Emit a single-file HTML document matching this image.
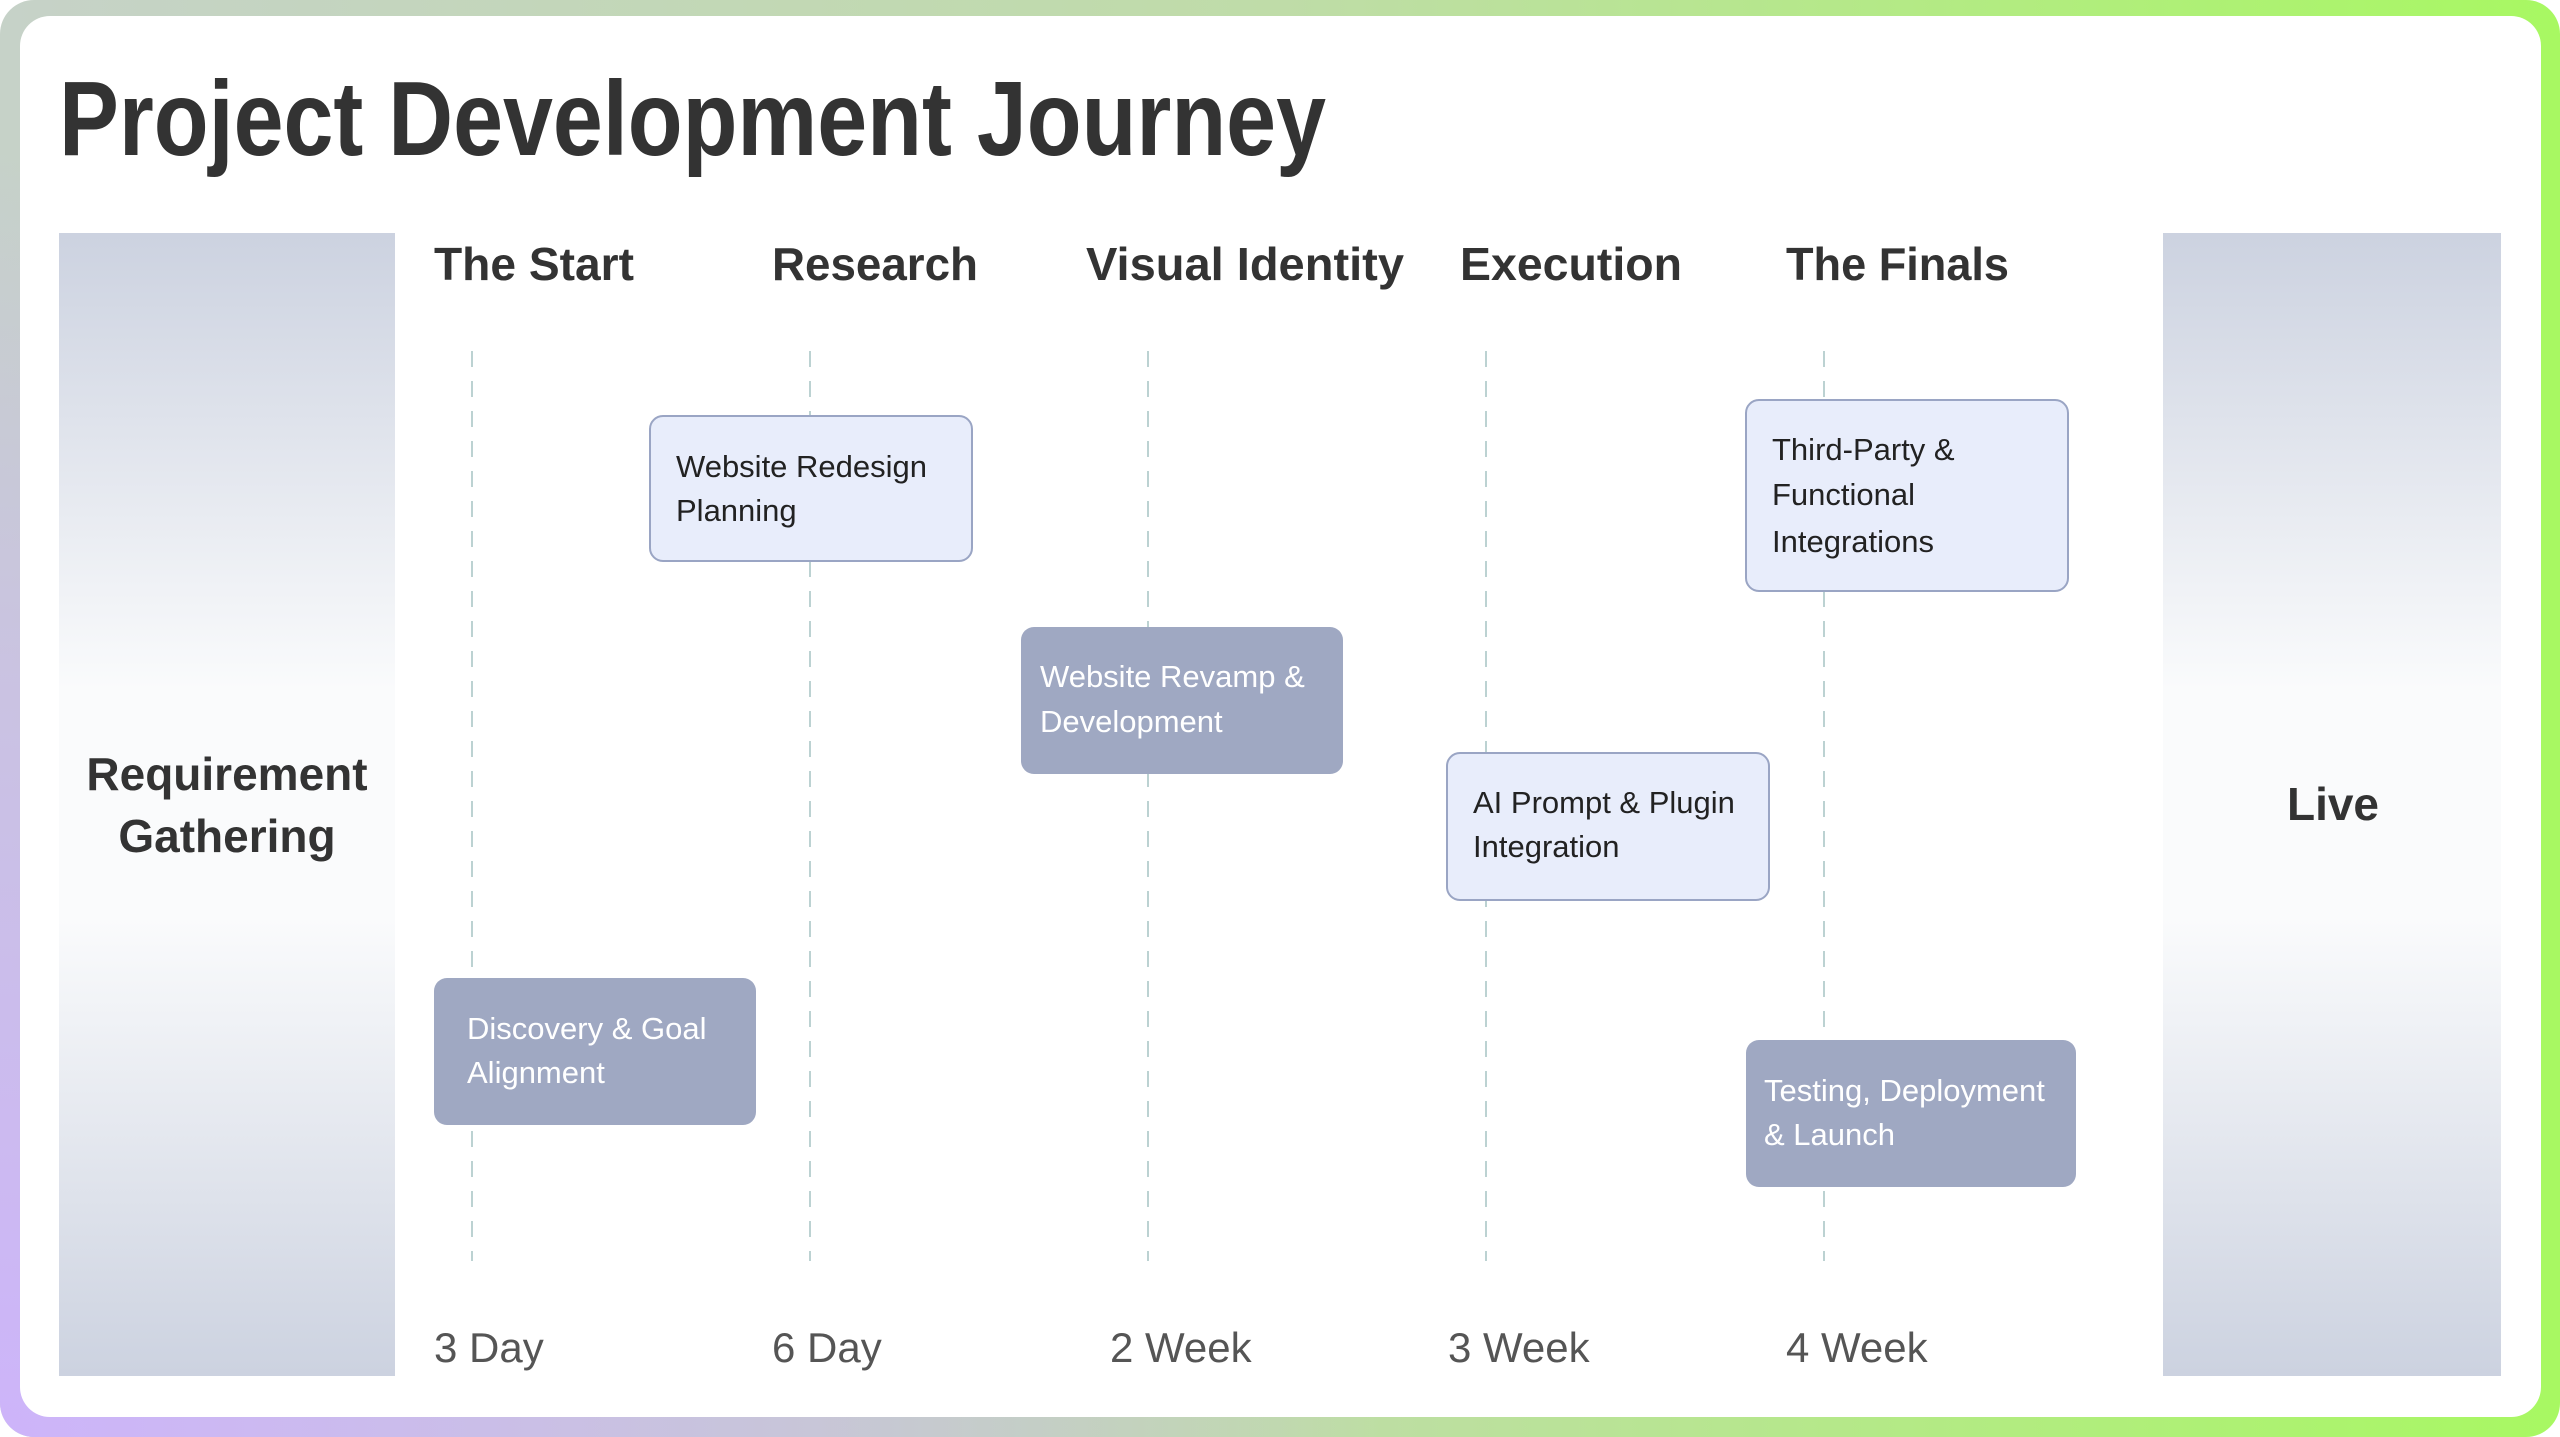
<!DOCTYPE html>
<html><head><meta charset="utf-8"><style>html,body{margin:0;padding:0;background:#fff}svg{display:block}</style></head>
<body>
<svg width="2560" height="1437" viewBox="0 0 2560 1437" xmlns="http://www.w3.org/2000/svg" font-family="'Liberation Sans', sans-serif">
<defs>
<linearGradient id="fr" x1="0" y1="0" x2="1" y2="0">
<stop offset="0" stop-color="#c6d2c8"/><stop offset="0.5" stop-color="#bfdca8"/><stop offset="1" stop-color="#a8f862"/>
</linearGradient>
<radialGradient id="lv" cx="0" cy="1" r="0.9" gradientTransform="scale(0.6 1)">
<stop offset="0" stop-color="#cdb4fa" stop-opacity="1"/><stop offset="0.6" stop-color="#cdb4fa" stop-opacity="0.5"/><stop offset="1" stop-color="#cdb4fa" stop-opacity="0"/>
</radialGradient>
<linearGradient id="pn" x1="0" y1="0" x2="0" y2="1">
<stop offset="0" stop-color="#ccd2e0"/><stop offset="0.4" stop-color="#fafbfc"/><stop offset="0.6" stop-color="#fafbfc"/><stop offset="1" stop-color="#ccd2e0"/>
</linearGradient>
</defs>
<rect x="0" y="0" width="2560" height="1437" rx="34" fill="url(#fr)"/>
<rect x="0" y="0" width="2560" height="1437" rx="34" fill="url(#lv)"/>
<rect x="20" y="16" width="2521" height="1401" rx="30" fill="#fff"/>
<text x="59" y="155" font-size="106" font-weight="bold" fill="#333" textLength="1267" lengthAdjust="spacingAndGlyphs">Project Development Journey</text>
<rect x="59" y="233" width="336" height="1143" fill="url(#pn)"/>
<rect x="2163" y="233" width="338" height="1143" fill="url(#pn)"/>
<g font-size="46" font-weight="bold" fill="#333" text-anchor="middle">
<text x="227" y="790">Requirement</text>
<text x="227" y="852">Gathering</text>
<text x="2333" y="820">Live</text>
</g>
<g font-size="46" font-weight="bold" fill="#333">
<text x="434" y="280" textLength="200" lengthAdjust="spacingAndGlyphs">The Start</text>
<text x="772" y="280" textLength="206" lengthAdjust="spacingAndGlyphs">Research</text>
<text x="1086" y="280" textLength="318" lengthAdjust="spacingAndGlyphs">Visual Identity</text>
<text x="1460" y="280" textLength="222" lengthAdjust="spacingAndGlyphs">Execution</text>
<text x="1786" y="280" textLength="223" lengthAdjust="spacingAndGlyphs">The Finals</text>
</g>
<g stroke="#bcd2d2" stroke-width="2" stroke-dasharray="16 14">
<line x1="472" y1="351" x2="472" y2="1261"/>
<line x1="810" y1="351" x2="810" y2="1261"/>
<line x1="1148" y1="351" x2="1148" y2="1261"/>
<line x1="1486" y1="351" x2="1486" y2="1261"/>
<line x1="1824" y1="351" x2="1824" y2="1261"/>
</g>
<g font-size="42" fill="#555">
<text x="434" y="1362">3 Day</text>
<text x="772" y="1362">6 Day</text>
<text x="1110" y="1362">2 Week</text>
<text x="1448" y="1362">3 Week</text>
<text x="1786" y="1362">4 Week</text>
</g>
<g stroke="#9aa5c4" stroke-width="2" fill="#e8edfb">
<rect x="650" y="416" width="322" height="145" rx="13"/>
<rect x="1447" y="753" width="322" height="147" rx="13"/>
<rect x="1746" y="400" width="322" height="191" rx="13"/>
</g>
<g fill="#9fa8c2">
<rect x="1021" y="627" width="322" height="147" rx="13"/>
<rect x="434" y="978" width="322" height="147" rx="13"/>
<rect x="1746" y="1040" width="330" height="147" rx="13"/>
</g>
<g font-size="31" fill="#222">
<text x="676" y="477">Website Redesign</text><text x="676" y="521">Planning</text>
<text x="1473" y="813">AI Prompt &amp; Plugin</text><text x="1473" y="857">Integration</text>
<text x="1772" y="460">Third-Party &amp;</text><text x="1772" y="505">Functional</text><text x="1772" y="552">Integrations</text>
</g>
<g font-size="31" fill="#fff">
<text x="1040" y="687">Website Revamp &amp;</text><text x="1040" y="732">Development</text>
<text x="467" y="1039">Discovery &amp; Goal</text><text x="467" y="1083">Alignment</text>
<text x="1764" y="1101">Testing, Deployment</text><text x="1764" y="1145">&amp; Launch</text>
</g>
</svg>
</body></html>
